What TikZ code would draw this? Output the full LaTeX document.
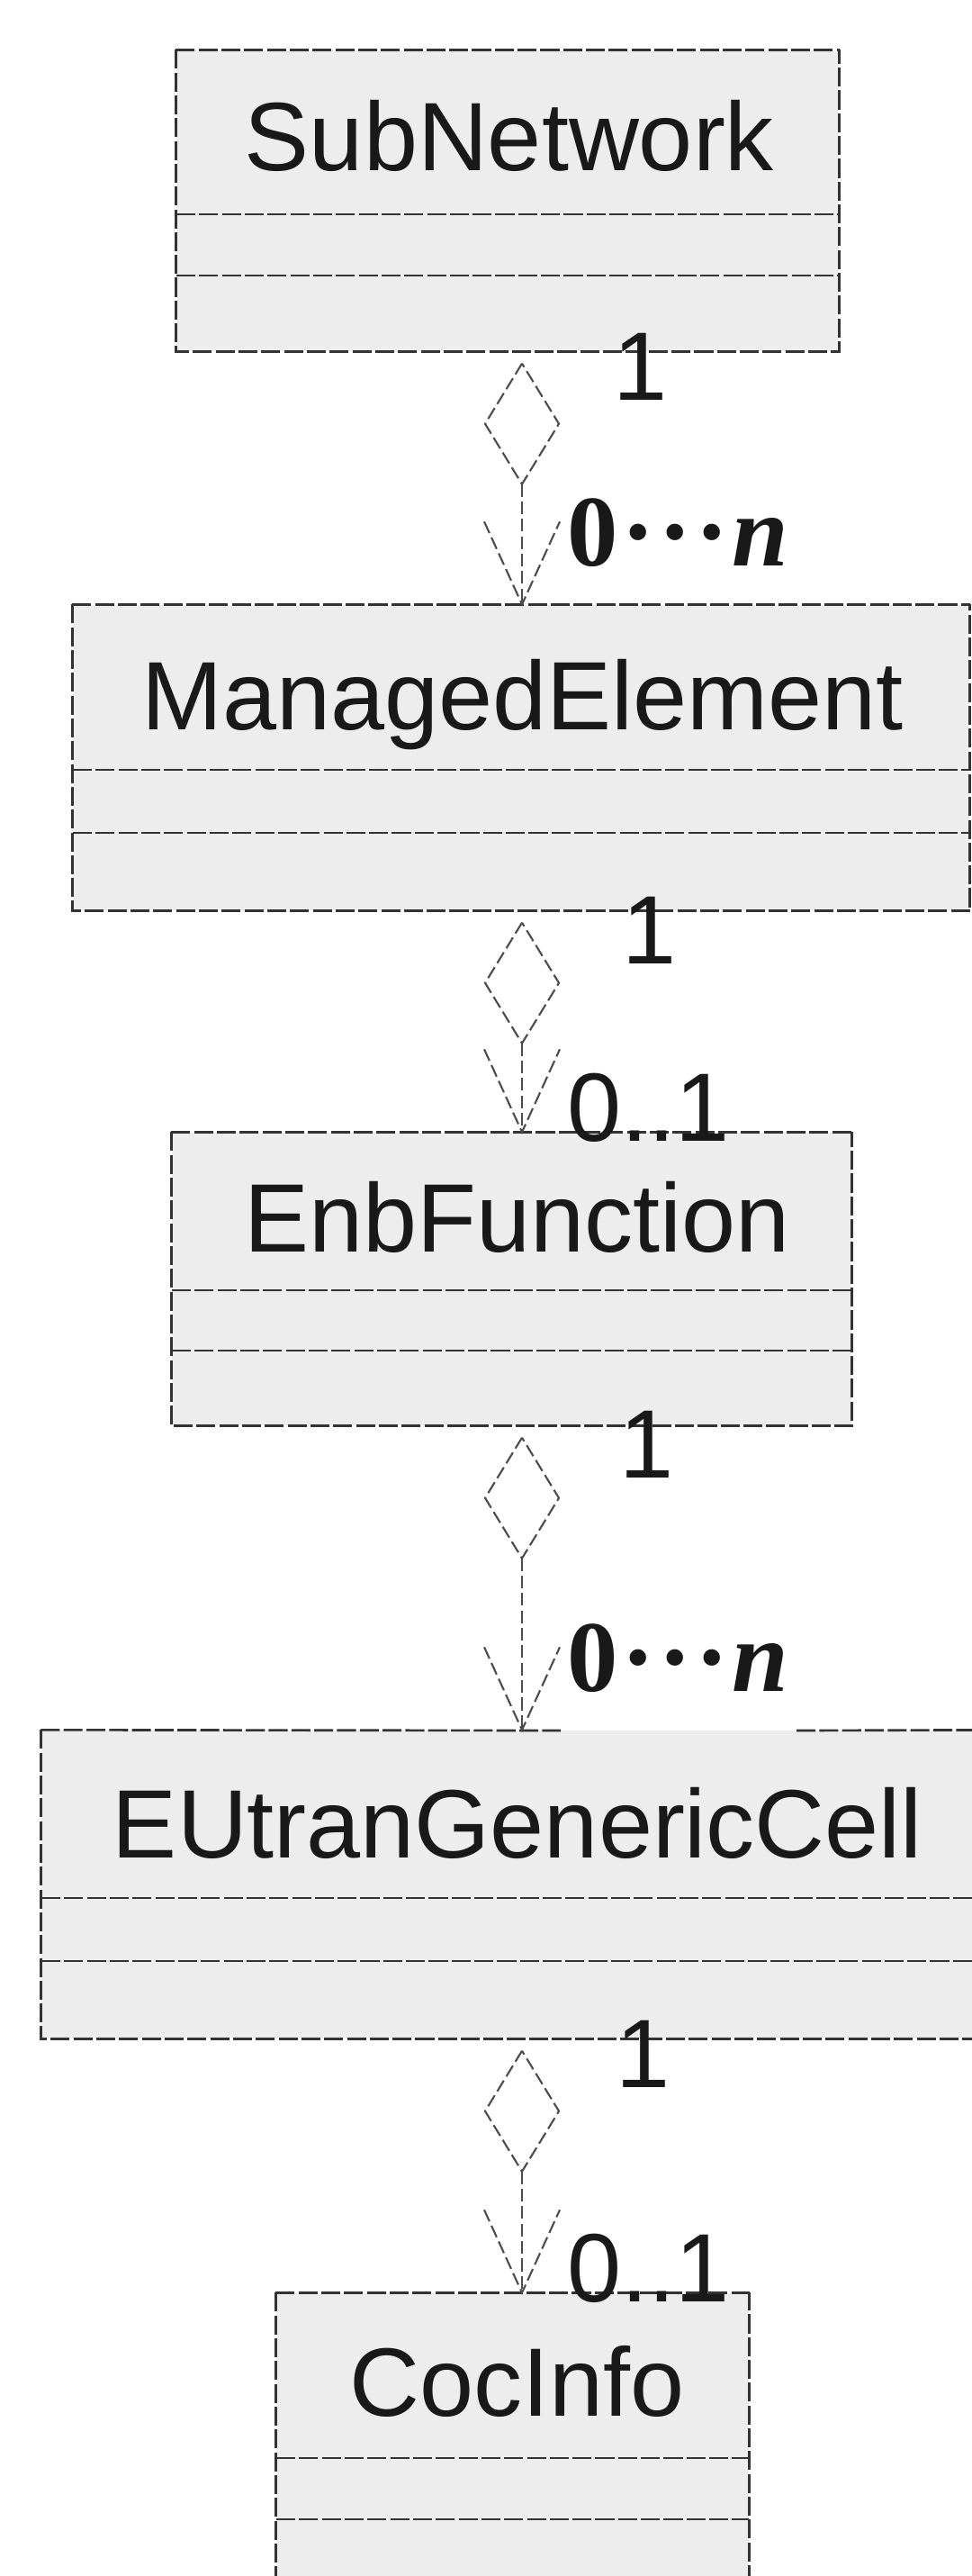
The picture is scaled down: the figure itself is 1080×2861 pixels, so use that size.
\documentclass[tikz,border=0pt]{standalone}
\usepackage{fontspec}
\setmainfont{Liberation Sans}
\newfontfamily\serifb{Liberation Serif}
\usetikzlibrary{fit,calc}
\begin{document}
\begin{tikzpicture}[x=0.01cm,y=-0.01cm,
  boxfill/.style={fill=black!7, draw=none, inner sep=0pt},
  edge/.style={draw=black!80, line width=0.75pt, dash pattern=on 6pt off 1.2pt},
  conn/.style={draw=black!70, line width=0.6pt, dash pattern=on 4pt off 1.5pt},
  title/.style={font=\fontsize{30.7}{36}\selectfont, text=black!90, inner sep=0pt, anchor=base},
  mult/.style={font=\fontsize{30.7}{36}\selectfont, text=black!90, inner sep=0pt},
  multn/.style={font=\serifb\fontsize{32}{36}\selectfont\bfseries, text=black!90, inner sep=0pt, anchor=base west},
  ]
\useasboundingbox (0,0) rectangle (1080,2861);
\clip (0,0) rectangle (1080,2861);
\fill[white] (0,0) rectangle (1080,2861);
\coordinate (ax) at (580,0);

% class boxes: name, left, top, right, bottom, div1, div2
\newcommand\classbox[7]{%
  \node[boxfill, fit={(#2,#3) (#4,#5)}] (#1) {};
  \draw[edge] (#1.north west) -- (#1.south west) -- (#1.south east) -- (#1.north east);
  \draw[edge] (#2,#6) -- (#4,#6);
  \draw[edge] (#2,#7) -- (#4,#7);
}
\newcommand\aggr[2]{%
  \draw[conn] ($(#1.south -| ax)+(0,13)$) -- ++(-41,67) -- ++(41,67) -- ++(41,-67) -- cycle;
  \draw[conn] ($(#1.south -| ax)+(0,147)$) -- (#2.north -| ax);
  \draw[conn] ($(#2.north -| ax)+(-42,-92)$) -- (#2.north -| ax) -- ++(42,-92);
}

\classbox{sn}{196}{56}{932}{390}{238}{306}
\draw[edge] (sn.north west) -- (sn.north east);
\node[title] (snt) at (566,190) {SubNetwork};

\classbox{me}{81}{672}{1077}{1011}{855}{925}
\draw[edge] (me.north west) -- (me.north east);
\node[title] (met) at (581,810) {ManagedElement};

\classbox{ef}{191}{1258}{946}{1583}{1433}{1500}
\draw[edge] (ef.north west) -- (ef.north east);
\node[title] (eft) at (575,1390) {EnbFunction};

\classbox{eu}{46}{1922}{1120}{2264}{2108}{2178}
\draw[edge] (eu.north west) -- (623,1922);
\draw[edge] (885,1922) -- (eu.north east);
\node[title] (eut) at (575,2063) {EUtranGenericCell};

\classbox{ci}{307}{2547}{832}{2900}{2730}{2798}
\draw[edge] (ci.north west) -- (ci.north east);
\node[title] (cit) at (575,2683) {CocInfo};

% associations
\aggr{sn}{me}
\aggr{me}{ef}
\aggr{ef}{eu}
\aggr{eu}{ci}

% multiplicities
\node[mult, anchor=base] (m1a) at (712,445) {1};
\node[multn] (m1b) at ($(me.north -| ax)+(50,-43)$) {0\kern1pt·\kern1pt·\kern1pt·\kern1pt{\itshape n}};
\node[mult, anchor=base] (m2a) at (722,1070) {1};
\node[mult, anchor=base west] (m2b) at ($(ef.north -| ax)+(50,10)$) {0..1};
\node[mult, anchor=base] (m3a) at (719,1641) {1};
\node[multn] (m3b) at ($(eu.north -| ax)+(50,-43)$) {0\kern1pt·\kern1pt·\kern1pt·\kern1pt{\itshape n}};
\node[mult, anchor=base] (m4a) at (715,2318) {1};
\node[mult, anchor=base west] (m4b) at ($(ci.north -| ax)+(50,10)$) {0..1};
\end{tikzpicture}
\end{document}
